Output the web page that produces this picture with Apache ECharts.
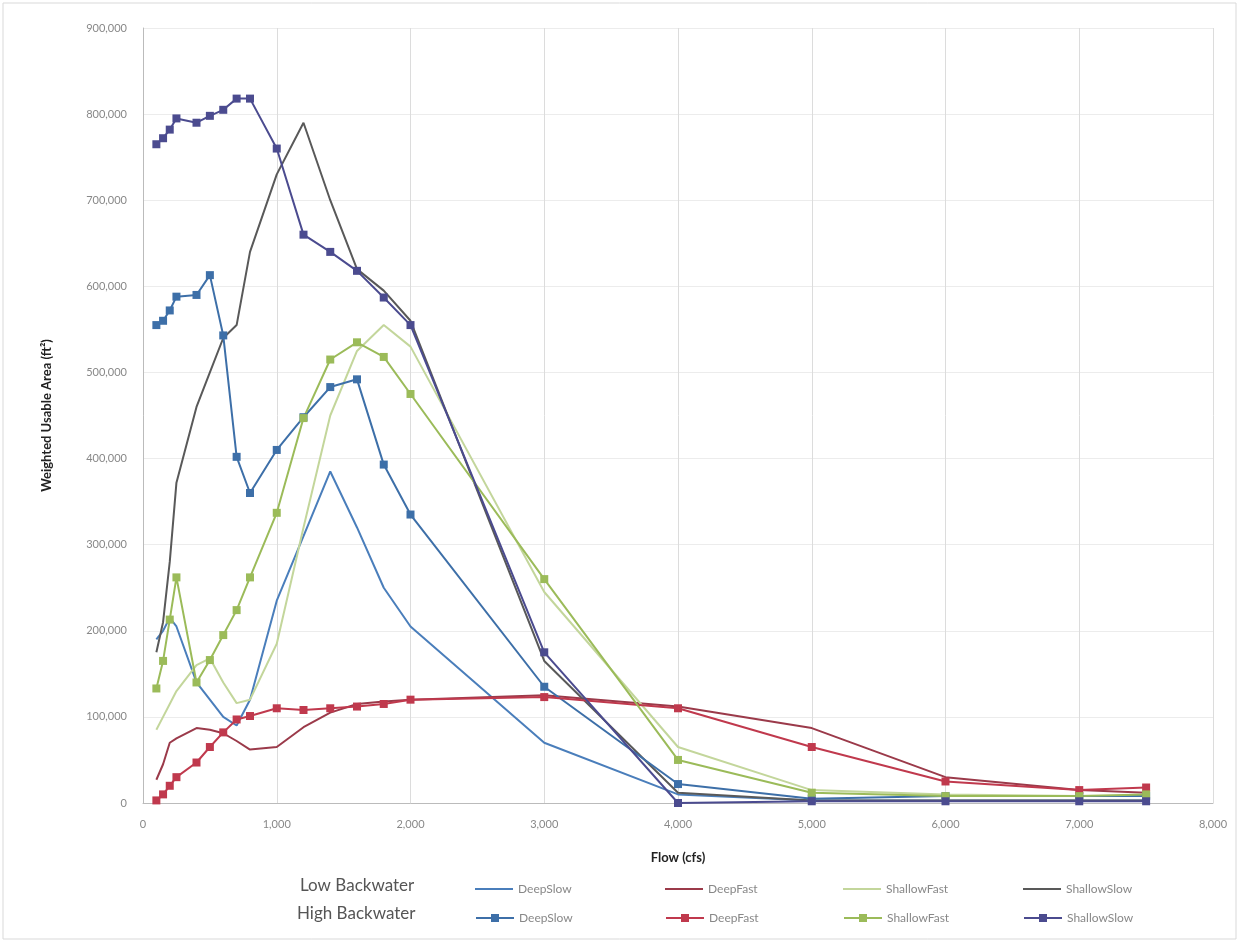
<!DOCTYPE html>
<html><head><meta charset="utf-8">
<script src="https://cdn.jsdelivr.net/npm/echarts@6/dist/echarts.min.js"></script>
<style>html,body{margin:0;padding:0;background:#fff}#c{width:1240px;height:942px}</style>
</head><body><div id="c"></div>
<script>
const flows = [100,150,200,250,400,500,600,700,800,1000,1200,1400,1600,1800,2000,3000,4000,5000,6000,7000,7500];
const lowDeepSlow     = [190000,200000,215000,205000,140000,120000,100000,90000,120000,235000,310000,385000,320000,250000,205000,70000,10000,3000,3000,3000,3000];
const lowDeepFast     = [27000,45000,70000,75000,87000,85000,81000,72000,62000,65000,88000,105000,115000,118000,120000,125000,112000,87000,30000,15000,12000];
const lowShallowFast  = [85000,100000,115000,130000,160000,168000,140000,116000,120000,185000,320000,450000,525000,555000,530000,245000,65000,15000,10000,8000,8000];
const lowShallowSlow  = [175000,210000,280000,372000,460000,500000,540000,555000,640000,730000,790000,700000,620000,595000,560000,165000,12000,3000,3000,3000,3000];
const highDeepSlow    = [555000,560000,572000,588000,590000,613000,543000,402000,360000,410000,448000,483000,492000,393000,335000,135000,22000,5000,8000,8000,8000];
const highDeepFast    = [3000,10000,20000,30000,47000,65000,82000,97000,101000,110000,108000,110000,112000,115000,120000,123000,110000,65000,25000,15000,18000];
const highShallowFast = [133000,165000,213000,262000,140000,166000,195000,224000,262000,337000,447000,515000,535000,518000,475000,260000,50000,12000,8000,8000,10000];
const highShallowSlow = [765000,772000,782000,795000,790000,798000,805000,818000,818000,760000,660000,640000,618000,587000,555000,175000,0,2000,2000,2000,2000];
const typeNames = ['DeepSlow','DeepFast','ShallowFast','ShallowSlow'];
const groupNames = ['Low Backwater','High Backwater'];

const pair = arr => flows.map((f,i)=>[f,arr[i]]);
const lowColors  = ['#4a7ebb','#9b3a4a','#c3d69b','#595959'];
const highColors = ['#3d6fa8','#c0394d','#9bbb59','#4b4b8f'];
const lowData  = [lowDeepSlow,lowDeepFast,lowShallowFast,lowShallowSlow];
const highData = [highDeepSlow,highDeepFast,highShallowFast,highShallowSlow];

const series = [];
typeNames.forEach((t,i)=>{
  series.push({name:'Low '+t,type:'line',data:pair(lowData[i]),symbol:'none',showSymbol:false,
    lineStyle:{width:2,color:lowColors[i]},itemStyle:{color:lowColors[i]},z:2});
});
typeNames.forEach((t,i)=>{
  series.push({name:'High '+t,type:'line',data:pair(highData[i]),symbol:'rect',symbolSize:8,
    lineStyle:{width:2,color:highColors[i]},itemStyle:{color:highColors[i]},z:3});
});

const legendX = [470,660,838,1018];
const legends = [];
['Low','High'].forEach((g,gi)=>{
  typeNames.forEach((t,i)=>{
    const isLow = gi===0;
    legends.push({data:[g+' '+t],left:legendX[i],top:isLow?878:907,
      itemWidth:38,itemHeight:isLow?2:10,icon:isLow?'rect':undefined,
      formatter:n=>n.replace(/^(Low|High) /,''),selectedMode:false,
      textStyle:{color:'#888',fontSize:12,fontFamily:'Lato'}});
  });
});

const chart = echarts.init(document.getElementById('c'),null,{renderer:'canvas'});
chart.setOption({
  animation:false,
  backgroundColor:'#fff',
  grid:{left:143,right:27,top:28,bottom:139},
  xAxis:{type:'value',min:0,max:8000,interval:1000,
    name:'Flow (cfs)',nameLocation:'middle',nameGap:48,
    nameTextStyle:{fontSize:13,fontWeight:'bold',color:'#222',fontFamily:'Lato'},
    axisLine:{show:true,lineStyle:{color:'#bbb'}},axisTick:{show:false},
    axisLabel:{color:'#888',fontSize:11,fontFamily:'Lato',margin:16,formatter:v=>v.toLocaleString('en-US')},
    splitLine:{show:true,lineStyle:{color:'#dcdcdc'}}},
  yAxis:{type:'value',min:0,max:900000,interval:100000,
    name:'Weighted Usable Area (ft²)',nameLocation:'middle',nameGap:90,
    nameTextStyle:{fontSize:13,fontWeight:'bold',color:'#222',fontFamily:'Lato'},
    axisLine:{show:true,lineStyle:{color:'#bbb'}},axisTick:{show:false},
    axisLabel:{color:'#888',fontSize:11,fontFamily:'Lato',margin:16,formatter:v=>v.toLocaleString('en-US')},
    splitLine:{show:true,lineStyle:{color:'#ececec'}}},
  legend:legends,
  graphic:[
    {type:'rect',shape:{x:3,y:3,width:1233,height:936},style:{fill:'none',stroke:'#d9d9d9',lineWidth:1},silent:true},
    {type:'text',left:300,top:877,style:{text:groupNames[0],fontSize:17,fill:'#555',fontFamily:'Lato'}},
    {type:'text',left:297,top:905,style:{text:groupNames[1],fontSize:17,fill:'#555',fontFamily:'Lato'}}
  ],
  series:series
});
</script></body></html>
